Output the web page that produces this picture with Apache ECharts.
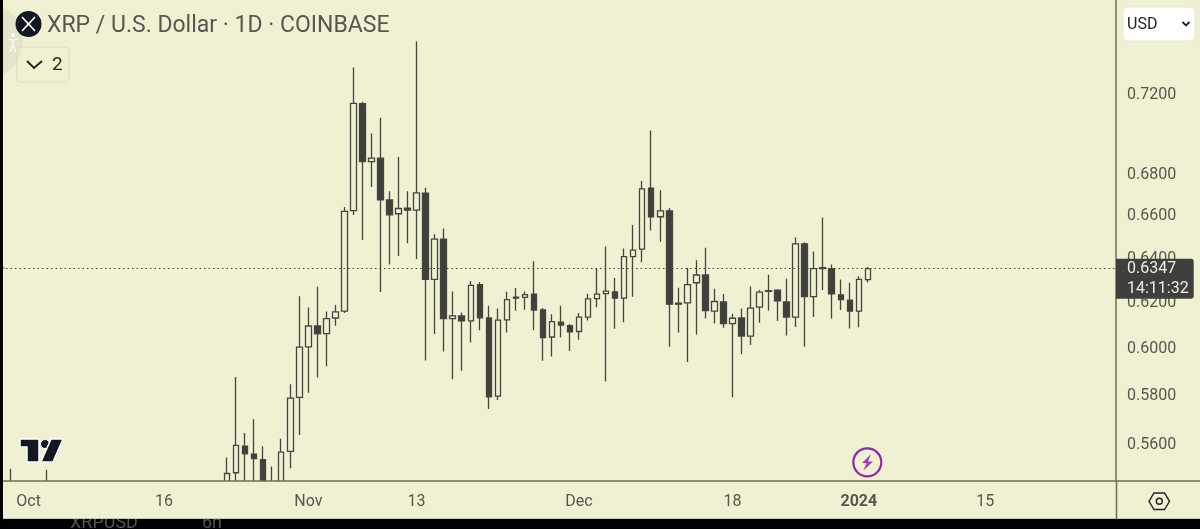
<!DOCTYPE html>
<html>
<head>
<meta charset="utf-8">
<title>XRP / U.S. Dollar</title>
<style>
html, body { margin: 0; padding: 0; background: #000; }
#chart { width: 1200px; height: 529px; }
</style>
<script src="https://cdn.jsdelivr.net/npm/echarts@6/dist/echarts.min.js"></script>
</head>
<body>
<div id="chart"></div>
<script>
// days on the axis, Sep 29 to Jan 29
const months = [['Sep', 29, 30], ['Oct', 1, 31], ['Nov', 1, 30], ['Dec', 1, 31], ['Jan', 1, 29]]
const categories = []
months.forEach(function (m) {
	for (let d = m[1]; d <= m[2]; d++) categories.push(m[0] + ' ' + d)
})
// labels on the time axis
const xLabels = { 'Oct 1': 'Oct', 'Oct 16': '16', 'Nov 1': 'Nov', 'Nov 13': '13', 'Dec 1': 'Dec', 'Dec 18': '18', 'Jan 1': '2024', 'Jan 15': '15' }
const yTicks = [0.56, 0.58, 0.60, 0.62, 0.64, 0.66, 0.68, 0.72]
const lastPrice = 0.6347
const countdown = '14:11:32'

// only wick tips show before Oct 23, the rest sits under the axis
const blank = n => Array(n).fill(null)
const opens = [.5400, ...blank(3), .5400, ...blank(19),
	.5415, .5482, .5588, .5556, .5534, .5420, .5440, .5567, .5787,
	.6000, .6091, .6058, .6126, .6156, .6617, .7145, .6854, .6871, .6668, .6602, .6629, .6619, .6701, .6298,
	.6483, .6123, .6135, .6113, .6274, .6126, .5792, .6118, .6218, .6217, .6232, .6162, .6043, .6108, .6092,
	.6067, .6130, .6212, .6234, .6242, .6214, .6402, .6437, .6725, .6588, .6616, .6192, .6193, .6283, .6318,
	.6156, .6197, .6101, .6126, .6047, .6174, .6247, .6250, .6197, .6130, .6461, .6221, .6352, .6347, .6229, .6205,
	.6156, .6297, ...blank(27)]
const closes = [.5420, ...blank(3), .5420, ...blank(19),
	.5479, .5591, .5557, .5538, .5415, .5440, .5564, .5784, .5999,
	.6091, .6057, .6123, .6153, .6613, .7147, .6854, .6871, .6668, .6597, .6627, .6619, .6702, .6298, .6483,
	.6123, .6135, .6114, .6271, .6127, .5789, .6117, .6207, .6214, .6230, .6161, .6041, .6110, .6095, .6066,
	.6130, .6211, .6232, .6245, .6214, .6402, .6432, .6721, .6588, .6616, .6187, .6187, .6275, .6318, .6159,
	.6199, .6101, .6125, .6047, .6170, .6241, .6244, .6202, .6130, .6461, .6221, .6347, .6347, .6233, .6207, .6156,
	.6298, .6347, ...blank(27)]
const lows = [.5380, ...blank(3), .5380, ...blank(19),
	.5396, .5415, .5415, .5430, .5400, .5380, .5410, .5500, .5633,
	.5806, .5870, .5918, .6092, .6148, .6596, .6479, .6730, .6241, .6366, .6405, .6464, .6391, .5942, .6056,
	.5980, .5863, .5898, .6019, .6072, .5739, .5776, .6063, .6158, .6162, .6072, .5941, .5959, .6041, .5983,
	.6031, .6115, .6174, .5853, .6079, .6107, .6220, .6376, .6523, .6471, .6001, .6063, .5936, .6054, .6124,
	.6102, .6083, .5787, .5969, .6009, .6105, .6159, .6113, .6050, .6087, .6001, .6131, .6250, .6124, .6161, .6080,
	.6086, .6284, ...blank(27)]
const highs = [.5498, ...blank(3), .5494, ...blank(19),
	.5542, .5872, .5641, .5697, .5587, .5507, .5617, .5842, .6223,
	.6172, .6265, .6155, .6183, .6634, .7333, .7155, .6993, .7073, .6710, .6877, .6710, .7471, .6726, .6506,
	.6533, .6244, .6150, .6291, .6286, .6180, .6168, .6243, .6259, .6244, .6381, .6170, .6143, .6180, .6100,
	.6148, .6234, .6349, .6449, .6305, .6440, .6549, .6759, .7009, .6715, .6629, .6260, .6350, .6385, .6443,
	.6256, .6232, .6145, .6168, .6266, .6250, .6319, .6254, .6301, .6490, .6468, .6426, .6584, .6366, .6298, .6283,
	.6313, .6355, ...blank(27)]

const candleData = categories.map(function (c, i) {
	if (opens[i] == null) return ['-', '-', '-', '-']
	return [opens[i], closes[i], lows[i], highs[i]]
})

const bg = '#f0f0d3'
const ink = '#45453f'
const textColor = '#57574f'
const lineColor = '#6f6f58'

const chart = echarts.init(document.getElementById('chart'), null, { renderer: 'canvas' })

chart.setOption({
	animation: false,
	backgroundColor: bg,
	textStyle: { fontFamily: 'Roboto' },
	grid: { left: 6, right: 84, top: 0, bottom: 48 },
	xAxis: {
		type: 'category',
		z: 4,
		data: categories,
		boundaryGap: true,
		axisLine: { lineStyle: { color: lineColor, width: 1.5 } },
		axisTick: { show: false },
		axisLabel: {
			color: textColor,
			fontSize: 16,
			margin: 13,
			interval: function (i, v) { return xLabels[v] !== undefined },
			formatter: function (v) {
				return v === 'Jan 1' ? '{y|' + xLabels[v] + '}' : xLabels[v]
			},
			rich: { y: { fontWeight: 'bold', fontSize: 16, color: textColor } }
		},
		splitLine: { show: false }
	},
	yAxis: {
		type: 'log',
		position: 'right',
		min: 0.54496,
		max: 0.7697,
		axisLine: { show: true, lineStyle: { color: lineColor, width: 1.5 } },
		axisTick: { show: false },
		splitLine: { show: false },
		axisLabel: {
			color: textColor,
			fontSize: 16,
			margin: 11,
			customValues: yTicks,
			formatter: function (v) { return '{p|' + v.toFixed(4) + '}' },
			// nudges the labels down to the reference baseline
			rich: { p: { fontSize: 16, color: textColor, padding: [4, 0, 0, 0] } }
		}
	},
	series: [{
		type: 'candlestick',
		data: candleData,
		barWidth: 6,
		itemStyle: {
			color: bg,
			color0: '#3f3f3d',
			borderColor: ink,
			borderColor0: ink,
			borderWidth: 1.3
		},
		markLine: {
			silent: true,
			symbol: 'none',
			animation: false,
			precision: 4,
			lineStyle: { color: '#45453f', type: [1.5, 3], width: 1 },
			label: {
				show: true,
				position: 'end',
				distance: 0,
				offset: [0, 10],
				formatter: lastPrice.toFixed(4) + '\n' + countdown,
				color: '#eeeee4',
				fontSize: 16,
				lineHeight: 20,
				align: 'left',
				backgroundColor: '#3f3f3d',
				borderRadius: [0, 3, 3, 0],
				padding: [0, 5, 0, 11]
			},
			data: [{ yAxis: lastPrice }]
		}
	}],
	graphic: [
		// hides the parts of candles that run under the time axis
		{ type: 'rect', z: 3, shape: { x: 3, y: 481, width: 1113, height: 30 }, style: { fill: bg } },
		{ type: 'line', z: 4, shape: { x1: 3, y1: 481, x2: 6, y2: 481 }, style: { stroke: lineColor, lineWidth: 1.5 } },
		{ type: 'line', z: 4, shape: { x1: 3, y1: 268, x2: 6, y2: 268 }, style: { stroke: '#45453f', lineWidth: 1, lineDash: [1.5, 3] } },

		// faint side tab and its figure
		{ type: 'circle', z: 1, shape: { cx: -16, cy: 41, r: 39 }, style: { fill: '#e4e4ca' } },
		{ type: 'circle', z: 3, shape: { cx: 13, cy: 35, r: 2 }, style: { fill: '#f8f8ee' } },
		{ type: 'polyline', z: 3, shape: { points: [[8, 39], [13, 40], [18, 39]] }, style: { stroke: '#f8f8ee', lineWidth: 1.5, fill: null } },
		{ type: 'polyline', z: 3, shape: { points: [[13, 40], [13, 45], [10, 52]] }, style: { stroke: '#f8f8ee', lineWidth: 1.5, fill: null } },
		{ type: 'polyline', z: 3, shape: { points: [[13, 45], [16, 52]] }, style: { stroke: '#f8f8ee', lineWidth: 1.5, fill: null } },

		// title row
		{ type: 'circle', z: 10, shape: { cx: 28.5, cy: 24, r: 13 }, style: { fill: '#131722' } },
		{ type: 'polyline', z: 11, shape: { points: [[22, 17], [28.5, 24], [35, 17]] }, style: { stroke: '#fff', lineWidth: 1.6, fill: null } },
		{ type: 'polyline', z: 11, shape: { points: [[22, 31], [28.5, 24], [35, 31]] }, style: { stroke: '#fff', lineWidth: 1.6, fill: null } },
		{ type: 'text', z: 10, x: 47, y: 26, style: { text: 'XRP / U.S. Dollar · 1D · COINBASE', fill: textColor, font: '23px Roboto', textVerticalAlign: 'middle' } },

		// collapsed indicators button
		{ type: 'rect', z: 10, shape: { x: 17, y: 47, width: 52, height: 35, r: 4 }, style: { fill: 'rgba(240,240,211,0.35)', stroke: '#dcdcc4', lineWidth: 1.2 } },
		{ type: 'polyline', z: 11, shape: { points: [[27, 61], [34, 68], [42, 61]] }, style: { stroke: '#1f1f1f', lineWidth: 1.8, fill: null } },
		{ type: 'text', z: 11, x: 52, y: 65, style: { text: '2', fill: '#262622', font: '19px Roboto', textVerticalAlign: 'middle' } },

		// currency select
		{ type: 'rect', z: 10, shape: { x: 1123, y: 7, width: 72, height: 34, r: 5 }, style: { fill: '#fff', stroke: '#e8e8d8', lineWidth: 1 } },
		{ type: 'text', z: 11, x: 1127, y: 25, style: { text: 'USD', fill: '#222', font: '16px Roboto', textVerticalAlign: 'middle' } },
		{ type: 'polyline', z: 11, shape: { points: [[1182.5, 22], [1186, 25.5], [1189.5, 22]] }, style: { stroke: '#222', lineWidth: 1.8, fill: null } },

		// logo
		{ type: 'polygon', z: 10, shape: { points: [[20, 439], [39, 439], [39, 462], [27, 462], [27, 447], [20, 447]] }, style: { fill: '#131722', stroke: '#fff', lineWidth: 1.5 } },
		{ type: 'circle', z: 10, shape: { cx: 45, cy: 444, r: 4.5 }, style: { fill: '#131722', stroke: '#fff', lineWidth: 1 } },
		{ type: 'polygon', z: 10, shape: { points: [[51, 439], [63, 439], [53, 462], [41, 462]] }, style: { fill: '#131722', stroke: '#fff', lineWidth: 1.5 } },

		// lightning badge
		{ type: 'circle', z: 10, shape: { cx: 867.3, cy: 462.3, r: 14 }, style: { fill: bg, stroke: '#8e2aa8', lineWidth: 2.2 } },
		{ type: 'polygon', z: 11, shape: { points: [[871, 454], [862, 463], [866.5, 463], [863.5, 470.5], [873, 461.5], [868, 461.5]] }, style: { fill: '#a33fbb' } },

		// axis lines running on through the bottom strip and corner
		{ type: 'line', z: 4, shape: { x1: 1116.5, y1: 481, x2: 1116.5, y2: 519 }, style: { stroke: lineColor, lineWidth: 1.5 } },
		{ type: 'line', z: 4, shape: { x1: 1116, y1: 481, x2: 1200, y2: 481 }, style: { stroke: lineColor, lineWidth: 1.5 } },

		// settings hexagon
		{ type: 'polygon', z: 10, shape: { points: [[1149, 501.3], [1154, 493], [1164.5, 493], [1169.5, 501.3], [1164.5, 509.5], [1154, 509.5]] }, style: { fill: 'none', stroke: '#222', lineWidth: 1.4 } },
		{ type: 'circle', z: 10, shape: { cx: 1159.3, cy: 501.3, r: 3 }, style: { fill: 'none', stroke: '#222', lineWidth: 1.4 } },

		// screenshot edges
		{ type: 'rect', z: 20, shape: { x: 0, y: 0, width: 3, height: 529 }, style: { fill: '#000' } },
		{ type: 'rect', z: 20, shape: { x: 0, y: 519, width: 1200, height: 10 }, style: { fill: '#000' } },
		{ type: 'text', z: 21, x: 70, y: 523, style: { text: 'XRPUSD', fill: '#55554f', font: '18px Roboto', textVerticalAlign: 'middle' } },
		{ type: 'text', z: 21, x: 202, y: 523, style: { text: '6h', fill: '#55554f', font: '18px Roboto', textVerticalAlign: 'middle' } },
		{ type: 'rect', z: 22, shape: { x: 3, y: 511, width: 1197, height: 8 }, style: { fill: bg } },
		{ type: 'line', z: 23, shape: { x1: 3, y1: 518.5, x2: 1200, y2: 518.5 }, style: { stroke: '#c9c9b0', lineWidth: 1 } },
		{ type: 'line', z: 23, shape: { x1: 1116.5, y1: 511, x2: 1116.5, y2: 519 }, style: { stroke: lineColor, lineWidth: 1.5 } }
	]
})
</script>
</body>
</html>
